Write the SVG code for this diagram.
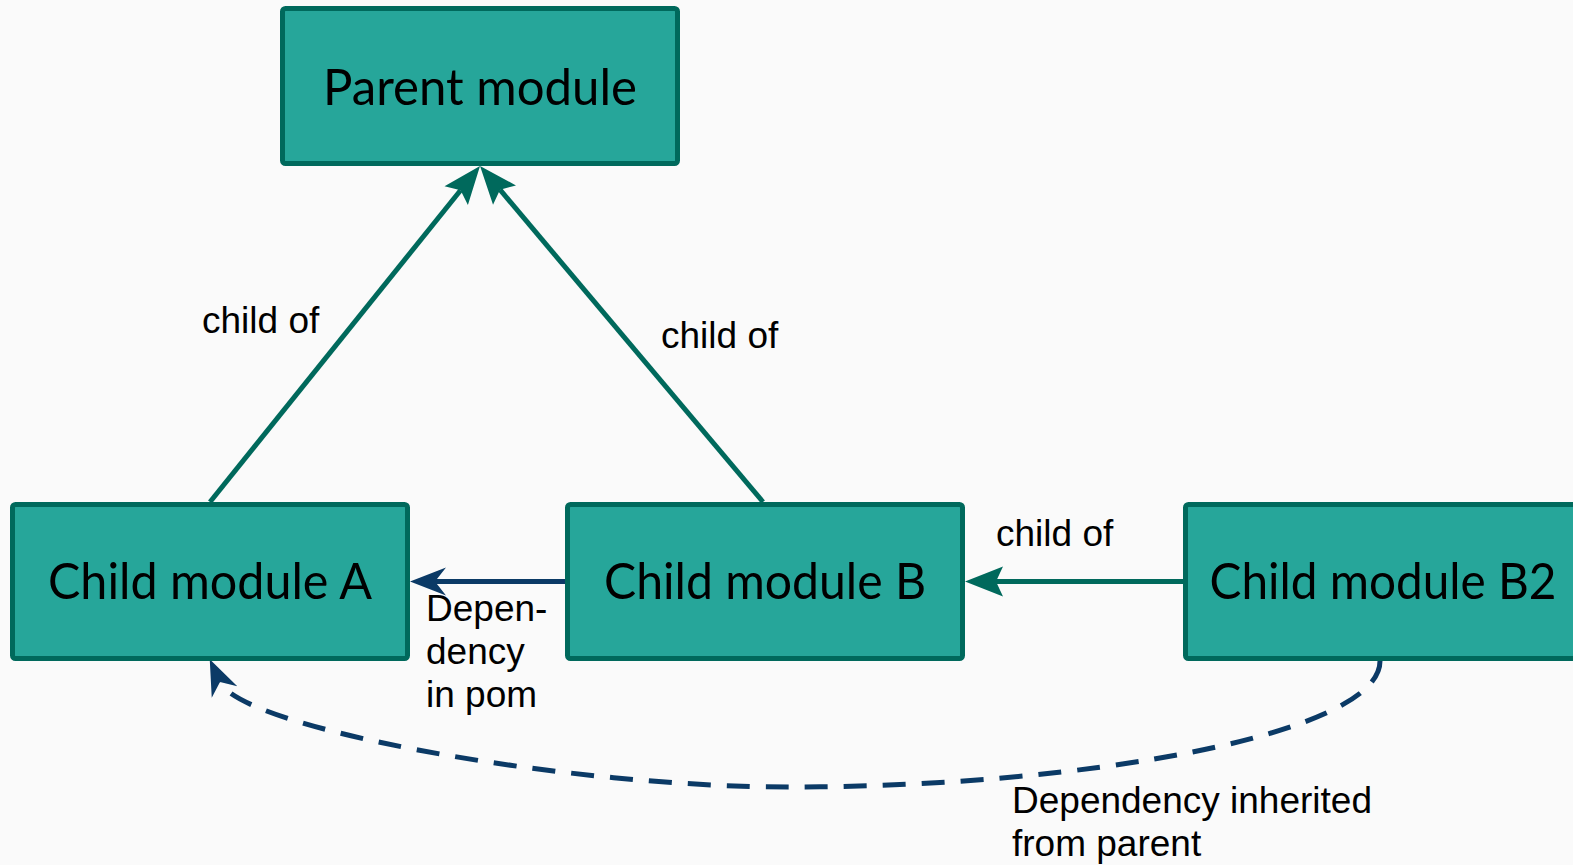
<svg xmlns="http://www.w3.org/2000/svg" width="1573" height="865" viewBox="0 0 1573 865">
  <style>
    .node rect { fill: #26A69A; stroke: #00695C; stroke-width: 5; }
    .node text { font-family: Lato, "Open Sans", sans-serif; font-size: 50px; fill: #000; text-anchor: middle; }
    .label { font-family: "Liberation Sans", Arial, sans-serif; font-size: 37px; fill: #000; }
    .teal { fill: none; stroke: #00695C; stroke-width: 5; }
    .navy { fill: none; stroke: #0B3A66; stroke-width: 5; }
    .dash { stroke-dasharray: 23 16; }
  </style>
  <defs>
    <!-- arrowheads: the path end sits at the notch, the tip extends past it -->
    <marker id="arrowTeal" viewBox="-40 -17 42 34" refX="-31" refY="0" markerWidth="42" markerHeight="34" markerUnits="userSpaceOnUse" orient="auto">
      <path d="M0,0 L-38,-15 L-31,0 L-38,15 Z" fill="#00695C"/>
    </marker>
    <marker id="arrowNavy" viewBox="-40 -17 42 34" refX="-25" refY="0" markerWidth="42" markerHeight="34" markerUnits="userSpaceOnUse" orient="auto">
      <path d="M0,0 L-36,-14 L-25,0 L-36,14 Z" fill="#0B3A66"/>
    </marker>
  </defs>

  <rect x="0" y="0" width="1573" height="865" fill="#FAFAFA"/>

  <g id="connectors">
    <!-- child of: A -> Parent -->
    <path class="teal" d="M210,502 L460.6,190.2" marker-end="url(#arrowTeal)"/>
    <!-- child of: B -> Parent -->
    <path class="teal" d="M763,502 L500,189.7" marker-end="url(#arrowTeal)"/>
    <!-- child of: B2 -> B -->
    <path class="teal" d="M1183,581.5 L996,581.5" marker-end="url(#arrowTeal)"/>
    <!-- dependency in pom: B -> A -->
    <path class="navy" d="M565,581.5 L435,581.5" marker-end="url(#arrowNavy)"/>
    <!-- inherited dependency: B2 -> A -->
    <path class="navy dash" d="M1380,661 C1380,735 1080,787 790,787 C560,787 240.5,727.5 220,682" marker-end="url(#arrowNavy)"/>

    <text class="label" x="202" y="333">child of</text>
    <text class="label" x="661" y="348">child of</text>
    <text class="label" x="996" y="546">child of</text>
    <text class="label">
      <tspan x="426" y="621">Depen-</tspan>
      <tspan x="426" y="664">dency</tspan>
      <tspan x="426" y="707">in pom</tspan>
    </text>
    <text class="label">
      <tspan x="1012" y="813">Dependency inherited</tspan>
      <tspan x="1012" y="856">from parent</tspan>
    </text>
  </g>

  <g id="parent" class="node">
    <rect x="282.5" y="8.5" width="395" height="155" rx="3"/>
    <text x="480" y="105" textLength="314" lengthAdjust="spacingAndGlyphs">Parent module</text>
  </g>
  <g id="childA" class="node">
    <rect x="12.5" y="504.5" width="395" height="154" rx="3"/>
    <text x="210" y="599" textLength="324" lengthAdjust="spacingAndGlyphs">Child module A</text>
  </g>
  <g id="childB" class="node">
    <rect x="567.5" y="504.5" width="395" height="154" rx="3"/>
    <text x="765" y="599" textLength="322" lengthAdjust="spacingAndGlyphs">Child module B</text>
  </g>
  <g id="childB2" class="node">
    <rect x="1185.5" y="504.5" width="395" height="154" rx="3"/>
    <text x="1383" y="599" textLength="347" lengthAdjust="spacingAndGlyphs">Child module B2</text>
  </g>
</svg>
